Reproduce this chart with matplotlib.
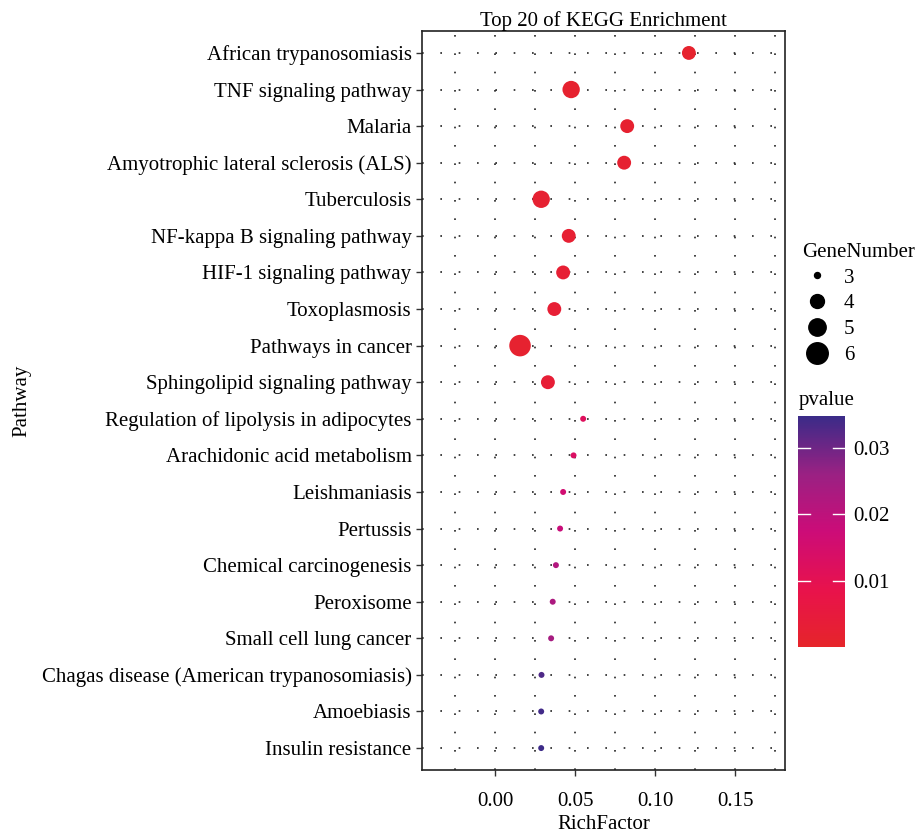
import numpy as np
import matplotlib.pyplot as plt
from matplotlib.colors import LinearSegmentedColormap, Normalize
from matplotlib.lines import Line2D

plt.rcParams['font.family'] = ['Liberation Serif', 'DejaVu Serif']

pathways = ['African trypanosomiasis', 'TNF signaling pathway', 'Malaria',
            'Amyotrophic lateral sclerosis (ALS)', 'Tuberculosis',
            'NF-kappa B signaling pathway', 'HIF-1 signaling pathway',
            'Toxoplasmosis', 'Pathways in cancer', 'Sphingolipid signaling pathway',
            'Regulation of lipolysis in adipocytes', 'Arachidonic acid metabolism',
            'Leishmaniasis', 'Pertussis', 'Chemical carcinogenesis', 'Peroxisome',
            'Small cell lung cancer', 'Chagas disease (American trypanosomiasis)',
            'Amoebiasis', 'Insulin resistance']
rich_factor = [0.121, 0.0475, 0.0825, 0.0806, 0.0288, 0.046, 0.0425, 0.037, 0.0156, 0.033,
               0.055, 0.049, 0.0425, 0.0406, 0.038, 0.036, 0.035, 0.029, 0.0288, 0.0288]
gene_number = [4, 5, 4, 4, 5, 4, 4, 4, 6, 4,
               3, 3, 3, 3, 3, 3, 3, 3, 3, 3]
pvalue = [0.0012, 0.0015, 0.0018, 0.002, 0.0022, 0.0025, 0.0028, 0.003, 0.0016, 0.0032,
          0.012, 0.013, 0.016, 0.018, 0.022, 0.023, 0.024, 0.033, 0.034, 0.0345]
legend_counts = [3, 4, 5, 6]

cmap = LinearSegmentedColormap.from_list(
    'pv', ['#E6252A', '#E8124C', '#CC0C78', '#9A2183', '#3A2B88'])
norm = Normalize(vmin=0.0001, vmax=0.0348)


def marker_size(n):
    # diameter in points grows with gene count
    d = {3: 4.3, 4: 10.0, 5: 12.5, 6: 15.5}
    return np.array([d[v] for v in n]) ** 2


fs = 15
fig = plt.figure(figsize=(9.22, 8.33), dpi=100)
ax = fig.add_axes([0.4577, 0.0756, 0.3937, 0.8872])

y = np.arange(len(pathways), 0, -1)
ax.scatter(rich_factor, y, s=marker_size(gene_number), c=pvalue, cmap=cmap, norm=norm,
           edgecolors='none', zorder=3)

ax.set_xlim(-0.0456, 0.181)
ax.set_ylim(0.4, len(pathways) + 0.6)
ax.set_xticks([0.0, 0.05, 0.10, 0.15])
ax.set_xticklabels(['0.00', '0.05', '0.10', '0.15'])
ax.set_xticks([-0.025, 0.025, 0.075, 0.125, 0.175], minor=True)
ax.set_yticks(y)
ax.set_yticklabels(pathways)
ax.tick_params(axis='both', which='major', labelsize=fs, length=4, width=1, color='#333333')
ax.tick_params(axis='x', which='minor', length=0)
ax.tick_params(axis='x', pad=12)
ax.grid(True, which='both', axis='x', color='#222222', linestyle=(0, (1, 10)), linewidth=1.2)
ax.grid(True, which='major', axis='y', color='#222222', linestyle=(0, (1, 10)), linewidth=1.2)
ax.set_axisbelow(True)
for sp in ax.spines.values():
    sp.set_linewidth(1.2)
    sp.set_color('#222222')

ax.set_title('Top 20 of KEGG Enrichment', fontsize=fs, pad=3)
ax.set_xlabel('RichFactor', fontsize=fs, labelpad=3)
ax.set_ylabel('Pathway', fontsize=fs)
ax.yaxis.set_label_coords(-1.075, 0.5)

# size legend
handles = [Line2D([], [], marker='o', linestyle='none', color='black',
                  markersize=np.sqrt(marker_size([n])[0])) for n in legend_counts]
leg = fig.legend(handles, [str(n) for n in legend_counts], title='GeneNumber',
                 loc='upper left', bbox_to_anchor=(0.859, 0.721), frameon=False,
                 fontsize=fs, title_fontsize=fs, labelspacing=0.3, handletextpad=0.6,
                 borderpad=0, handlelength=1.4)
leg._legend_box.align = 'left'

# colour bar
cax = fig.add_axes([0.8655, 0.2233, 0.051, 0.2774])
sm = plt.cm.ScalarMappable(norm=norm, cmap=cmap)
cb = fig.colorbar(sm, cax=cax, ticks=[0.01, 0.02, 0.03])
cb.ax.set_yticklabels(['0.01', '0.02', '0.03'])
cb.outline.set_visible(False)
cb.ax.tick_params(length=0, labelsize=fs, pad=6)
for t in [0.01, 0.02, 0.03]:
    cax.plot([0, 0.25], [t, t], color='white', lw=1, transform=cax.get_yaxis_transform())
    cax.plot([0.75, 1], [t, t], color='white', lw=1, transform=cax.get_yaxis_transform())
fig.text(0.866, 0.508, 'pvalue', fontsize=fs, ha='left', va='bottom')

fig.savefig('out.png', dpi=100)
